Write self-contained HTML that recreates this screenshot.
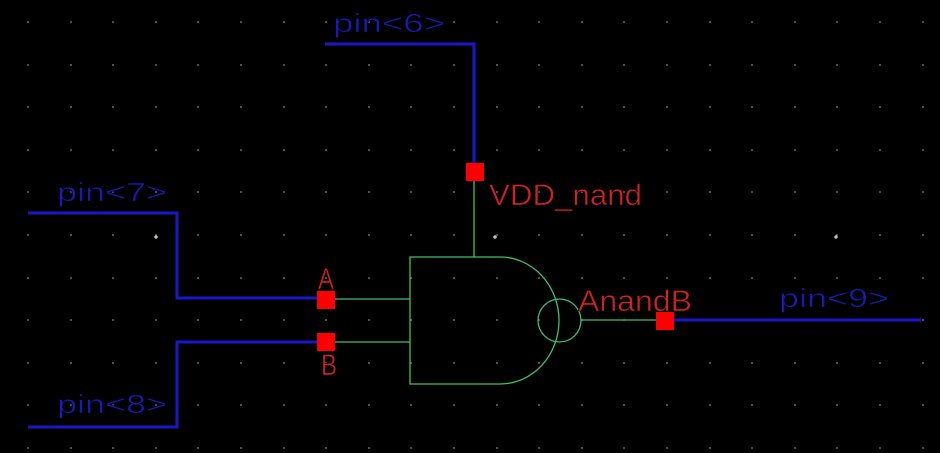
<!DOCTYPE html>
<html>
<head>
<meta charset="utf-8">
<style>
html,body{margin:0;padding:0;background:#000;}
body{width:940px;height:453px;overflow:hidden;}
svg{display:block;}
</style>
</head>
<body>
<svg width="940" height="453" viewBox="0 0 940 453" xmlns="http://www.w3.org/2000/svg">
<rect width="940" height="453" fill="#000"/>
<g id="grid" fill="#8a8a8a">
</g>
<script>
(function(){
var g=document.getElementById('grid');var ns='http://www.w3.org/2000/svg';
for(var i=0;i<22;i++){for(var k=0;k<11;k++){
var x=Math.round(28+i*42.6), y=Math.round(22+k*42.6);
var r=document.createElementNS(ns,'rect');
r.setAttribute('x',x-0.75);r.setAttribute('y',y-0.75);r.setAttribute('width',1.5);r.setAttribute('height',1.5);
g.appendChild(r);}}
})();
</script>
<!-- white cross markers -->
<g stroke="#ffffff" stroke-width="1">
<path d="M154,237H158M156,235V239"/>
<path d="M493,237H497M495,235V239"/>
<path d="M834,237H838M836,235V239"/>
</g>

<!-- blue wires -->
<g fill="none" stroke="#1818c8" stroke-width="3">
<polyline points="325,44 474,44 474,165"/>
<polyline points="28,213 177,213 177,298 317,298"/>
<polyline points="28,427 177,427 177,342 317,342"/>
<polyline points="674,320 921,320"/>
</g>

<!-- green gate -->
<g fill="none" stroke="#3cc070" stroke-width="1.3">
<line x1="474" y1="181" x2="474" y2="257"/>
<path d="M410,257 H500 A59,63.5 0 0 1 500,384 H410 Z"/>
<line x1="335" y1="299" x2="410" y2="299"/>
<line x1="335" y1="342" x2="410" y2="342"/>
<circle cx="559.5" cy="320.5" r="21.5"/>
<line x1="581" y1="320" x2="656" y2="320"/>
</g>

<!-- red pins -->
<g fill="#ff0000">
<rect x="466" y="163" width="18" height="18"/>
<rect x="317" y="291" width="18" height="18"/>
<rect x="317" y="333" width="18" height="18"/>
<rect x="656" y="312" width="18" height="18"/>
</g>

<!-- blue labels -->
<g fill="#1a1ab8" stroke="#000" stroke-width="0.6" font-family="Liberation Sans, sans-serif" font-size="26">
<text x="333" y="32" textLength="112" lengthAdjust="spacingAndGlyphs">pin&lt;6&gt;</text>
<text x="57" y="201" textLength="110" lengthAdjust="spacingAndGlyphs">pin&lt;7&gt;</text>
<text x="57" y="413" textLength="110" lengthAdjust="spacingAndGlyphs">pin&lt;8&gt;</text>
<text x="779" y="307" textLength="110" lengthAdjust="spacingAndGlyphs">pin&lt;9&gt;</text>
</g>

<!-- red labels -->
<g fill="#d42020" stroke="#000" stroke-width="0.6" font-family="Liberation Sans, sans-serif" font-size="30">
<text x="489" y="205" textLength="153" lengthAdjust="spacingAndGlyphs">VDD_nand</text>
<text x="578" y="311" textLength="114" lengthAdjust="spacingAndGlyphs">AnandB</text>
<text x="318" y="289" textLength="16" lengthAdjust="spacingAndGlyphs">A</text>
<text x="321" y="375" textLength="16" lengthAdjust="spacingAndGlyphs">B</text>
</g>
</svg>
</body>
</html>
